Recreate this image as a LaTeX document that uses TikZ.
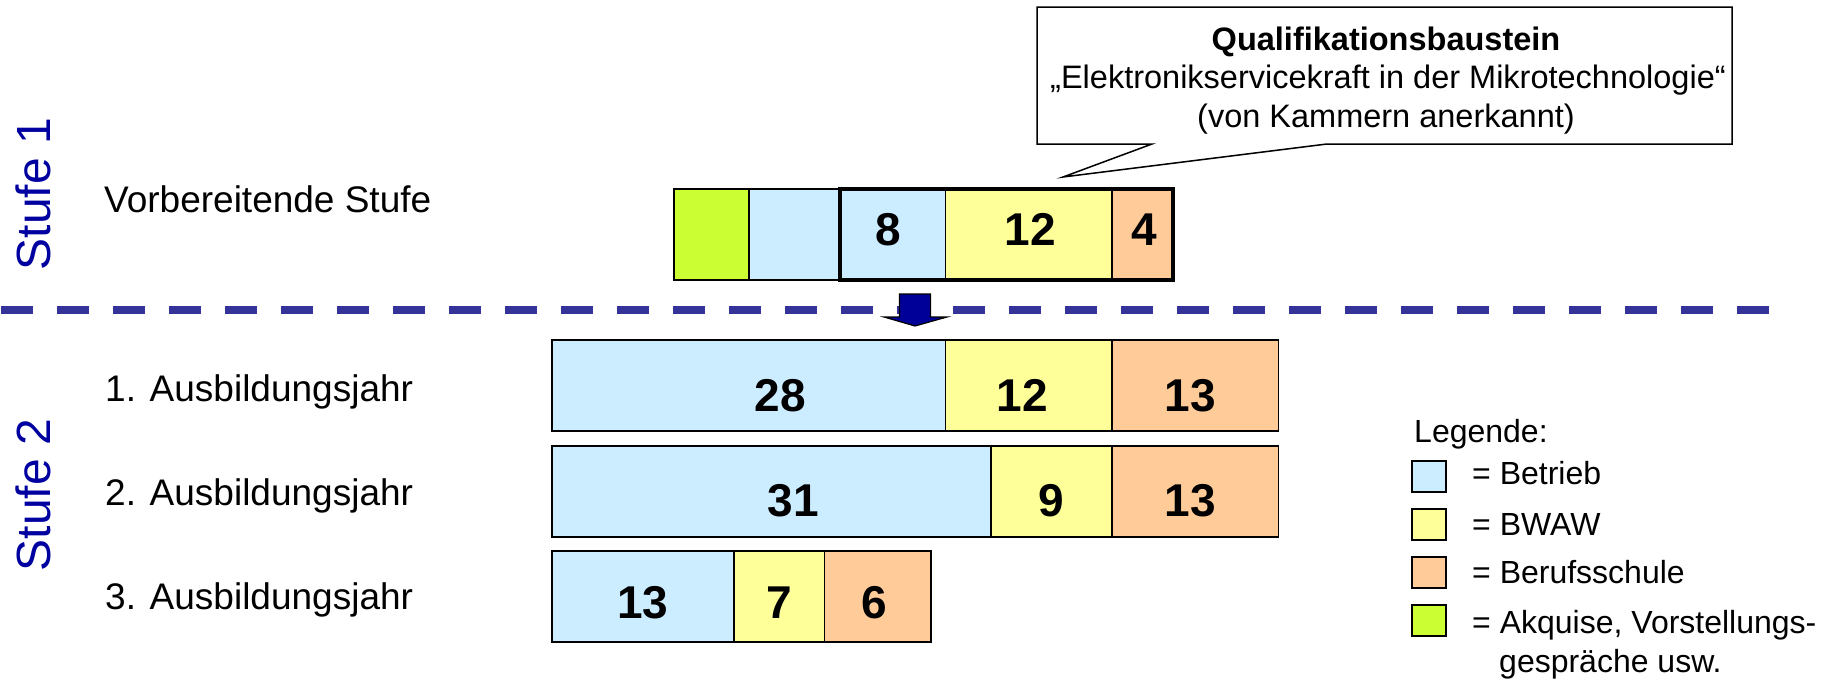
\documentclass[tikz,border=0pt]{standalone}
\usepackage{fontspec}
\setmainfont{Liberation Sans}
\definecolor{cgreen}{HTML}{CCFF33}
\definecolor{cblue}{HTML}{CCECFF}
\definecolor{cyellow}{HTML}{FFFF99}
\definecolor{corange}{HTML}{FFCC99}
\definecolor{dashblue}{HTML}{333399}
\definecolor{stufeblue}{HTML}{0000A0}
\definecolor{arrowblue}{HTML}{000099}
\begin{document}
\begin{tikzpicture}[x=1pt,y=-1pt,
  cell/.style={draw=black, line width=1.5pt, anchor=north west, inner sep=0pt, outer sep=0pt, minimum height=91pt},
  num/.style={anchor=base, font=\fontsize{46}{46}\selectfont\bfseries, inner sep=0pt},
  lbl/.style={anchor=base west, font=\fontsize{37}{44}\selectfont, inner sep=0pt},
  stufe/.style={anchor=base, rotate=90, text=stufeblue, font=\fontsize{48}{48}\selectfont, inner sep=0pt},
  ctext/.style={anchor=base, font=\fontsize{32.5}{39}\selectfont, inner sep=0pt},
  legtext/.style={anchor=base west, font=\fontsize{32}{39}\selectfont, inner sep=0pt},
  legbox/.style={draw=black, line width=2pt, anchor=north west, inner sep=0pt, outer sep=0pt, minimum width=34pt, minimum height=31pt}]
\useasboundingbox (0,0) rectangle (1829,680);

% stage labels
\node[stufe] (s1) at (50,194) {Stufe 1};
\node[stufe] (s2) at (50,495) {Stufe 2};

% row labels
\node[lbl] (l0) at (104,212) {Vorbereitende Stufe};
\node[lbl] (l1) at (105,401) {1. Ausbildungsjahr};
\node[lbl] (l2) at (105,505) {2. Ausbildungsjahr};
\node[lbl] (l3) at (105,609) {3. Ausbildungsjahr};

% dashed separator
\coordinate (dl) at (1,310);
\coordinate (dr) at (1769,310);
\draw[dashblue, line width=8pt, dash pattern=on 32pt off 24pt] (dl) -- (dr);

% stage 1 bar
\node[cell, fill=cgreen, minimum width=75pt] (v0) at (674,189) {};
\node[cell, fill=cblue, minimum width=91pt] (v1) at (749,189) {};
\node[cell, fill=cblue, minimum width=105.5pt] (v2) at (840,189) {};
\node[cell, fill=cyellow, minimum width=166.5pt] (v3) at (945.5,189) {};
\node[cell, fill=corange, minimum width=61pt] (v4) at (1112,189) {};
\draw[line width=4.5pt] (v2.north west) rectangle (v4.south east);
\node[num] (n01) at (888,245) {8};
\node[num] (n02) at (1030,245) {12};
\node[num] (n03) at (1144,245) {4};

% arrow
\fill[arrowblue, draw=black, line width=1.2pt] (899.5,294) -- (930.5,294) -- (930.5,317) -- (947,317) -- (915,326) -- (884,317) -- (899.5,317) -- cycle;

% row 1
\node[cell, fill=cblue, minimum width=393.5pt] (a1) at (552,340) {};
\node[cell, fill=cyellow, minimum width=166.5pt] (a2) at (945.5,340) {};
\node[cell, fill=corange, minimum width=166.5pt] (a3) at (1112,340) {};
\node[num] (n11) at (780,411) {28};
\node[num] (n12) at (1022,411) {12};
\node[num] (n13) at (1190,411) {13};

% row 2
\node[cell, fill=cblue, minimum width=439pt] (b1) at (552,446) {};
\node[cell, fill=cyellow, minimum width=121pt] (b2) at (991,446) {};
\node[cell, fill=corange, minimum width=166.5pt] (b3) at (1112,446) {};
\node[num] (n21) at (793,516) {31};
\node[num] (n22) at (1051,516) {9};
\node[num] (n23) at (1190,516) {13};

% row 3
\node[cell, fill=cblue, minimum width=182pt] (c1) at (552,551) {};
\node[cell, fill=cyellow, minimum width=90.5pt] (c2) at (734,551) {};
\node[cell, fill=corange, minimum width=106.5pt] (c3) at (824.5,551) {};
\node[num] (n31) at (643,618) {13};
\node[num] (n32) at (779,618) {7};
\node[num] (n33) at (874,618) {6};

% callout
\draw[fill=white, line width=1.5pt] (1037,7) -- (1732,7) -- (1732,144) -- (1327,144) -- (1063,177) -- (1152,144) -- (1037,144) -- cycle;
\node[ctext, font=\fontsize{32.5}{39}\selectfont\bfseries] (q1) at (1386,50) {Qualifikationsbaustein};
\node[ctext] (q2) at (1388,88) {„Elektronikservicekraft in der Mikrotechnologie“};
\node[ctext] (q3) at (1386,127) {(von Kammern anerkannt)};

% legend
\node[legtext] (lg) at (1414,442) {Legende:};
\node[legbox, fill=cblue] (k1) at (1412,461) {};
\node[legbox, fill=cyellow] (k2) at (1412,509) {};
\node[legbox, fill=corange] (k3) at (1412,557) {};
\node[legbox, fill=cgreen] (k4) at (1412,605) {};
\node[legtext] (t1) at (1472,484) {= Betrieb};
\node[legtext] (t2) at (1472,535) {= BWAW};
\node[legtext] (t3) at (1472,583) {= Berufsschule};
\node[legtext] (t4) at (1472,633) {= Akquise, Vorstellungs-};
\node[legtext] (t5) at (1499,672) {gespräche usw.};
\end{tikzpicture}
\end{document}
